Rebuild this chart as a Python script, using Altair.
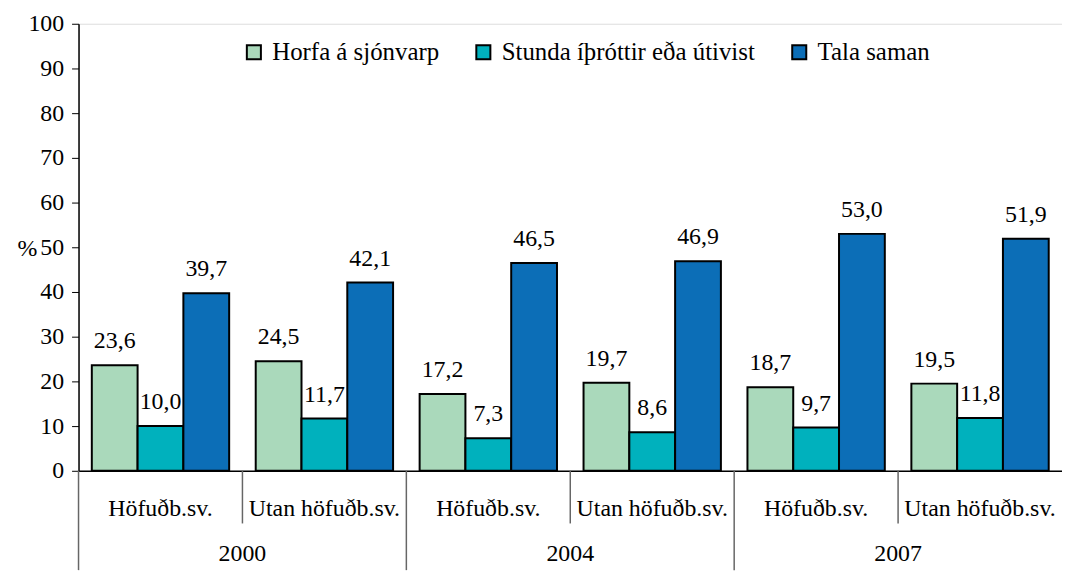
import altair as alt
import pandas as pd

years = ["2000", "2000", "2004", "2004", "2007", "2007"]
regions = ["Höfuðb.sv.", "Utan höfuðb.sv.", "Höfuðb.sv.", "Utan höfuðb.sv.", "Höfuðb.sv.", "Utan höfuðb.sv."]
series = ["Horfa á sjónvarp", "Stunda íþróttir eða útivist", "Tala saman"]
horfa = [23.6, 24.5, 17.2, 19.7, 18.7, 19.5]
stunda = [10.0, 11.7, 7.3, 8.6, 9.7, 11.8]
tala = [39.7, 42.1, 46.5, 46.9, 53.0, 51.9]
colors = ["#AAD9BB", "#00B1BD", "#0C6EB7"]

groups = [f"{y}|{r}" for y, r in zip(years, regions)]
rows = []
for i, g in enumerate(groups):
    for s, vals in zip(series, [horfa, stunda, tala]):
        rows.append({"grp": g, "year": years[i], "region": regions[i], "series": s, "value": vals[i]})
df = pd.DataFrame(rows)

grp_df = pd.DataFrame({"grp": groups, "year": years, "region": regions,
                       "first": [i % 2 == 0 for i in range(len(groups))]})

FONT = "Liberation Serif"
FS = 24
W, H = 990, 450

xscale = alt.Scale(domain=groups, paddingInner=0, paddingOuter=0)

x_bar = alt.X("grp:N", scale=xscale, title=None,
              axis=alt.Axis(labelExpr="split(datum.label, '|')[1]", labelAngle=0,
                            ticks=False, labelPadding=26, labelFont=FONT,
                            labelFontSize=FS, labelColor="black", labelLimit=0,
                            domainColor="black", domainWidth=1.5))
xoff = alt.XOffset("series:N", sort=series,
                   scale=alt.Scale(domain=series, paddingInner=0, paddingOuter=0.29))
y_enc = alt.Y("value:Q", scale=alt.Scale(domain=[0, 100], nice=False),
              axis=alt.Axis(values=list(range(0, 101, 10)), grid=False, tickColor="black",
                            tickSize=7, domainColor="black", domainWidth=1.5,
                            labelFont=FONT, labelFontSize=FS, labelColor="black",
                            labelPadding=8, title="%", titleAngle=0, titleFont=FONT,
                            titleFontSize=FS, titleFontWeight="normal", titleColor="black",
                            titleX=-62, titleY=233, titleAlign="left",
                            titleBaseline="alphabetic"))

bars = alt.Chart(df).mark_bar(stroke="black", strokeWidth=2).encode(
    x=x_bar, xOffset=xoff, y=y_enc,
    color=alt.Color("series:N", scale=alt.Scale(domain=series, range=colors),
                    legend=alt.Legend(orient="none", legendX=164, legendY=16,
                                      direction="horizontal", title=None,
                                      symbolType="square", symbolSize=200,
                                      symbolStrokeColor="black", symbolStrokeWidth=2,
                                      labelFont=FONT, labelFontSize=25, labelColor="black",
                                      labelLimit=0, columnPadding=32, labelOffset=6)),
)

labels = alt.Chart(df).transform_calculate(
    label="replace(format(datum.value, '.1f'), '.', ',')"
).mark_text(font=FONT, fontSize=FS, color="black", baseline="alphabetic", dy=-17).encode(
    x=alt.X("grp:N", scale=xscale), xOffset=xoff,
    y=alt.Y("value:Q"), text="label:N",
)

short_sep = alt.Chart(grp_df).transform_filter("!datum.first").mark_rule(
    color="#666666", strokeWidth=1.5).encode(
    x=alt.X("grp:N", scale=xscale, bandPosition=0),
    y=alt.value(H), y2=alt.value(H + 53),
)
long_sep = alt.Chart(grp_df).transform_filter("datum.first").mark_rule(
    color="#666666", strokeWidth=1.5).encode(
    x=alt.X("grp:N", scale=xscale, bandPosition=0),
    y=alt.value(H), y2=alt.value(H + 100),
)
year_text = alt.Chart(grp_df).transform_filter("datum.first").mark_text(
    font=FONT, fontSize=FS, color="black", baseline="middle").encode(
    x=alt.X("grp:N", scale=xscale, bandPosition=1),
    y=alt.value(H + 84), text="year:N",
)

chart = alt.layer(bars, labels, short_sep, long_sep, year_text).properties(
    width=W, height=H,
    autosize=alt.AutoSizeParams(type="none"),
    padding={"left": 71, "top": 14, "right": 0, "bottom": 99},
).configure_view(stroke=None).configure(font=FONT)

chart.save("out.html", embed_options={"renderer": "svg", "actions": False})
